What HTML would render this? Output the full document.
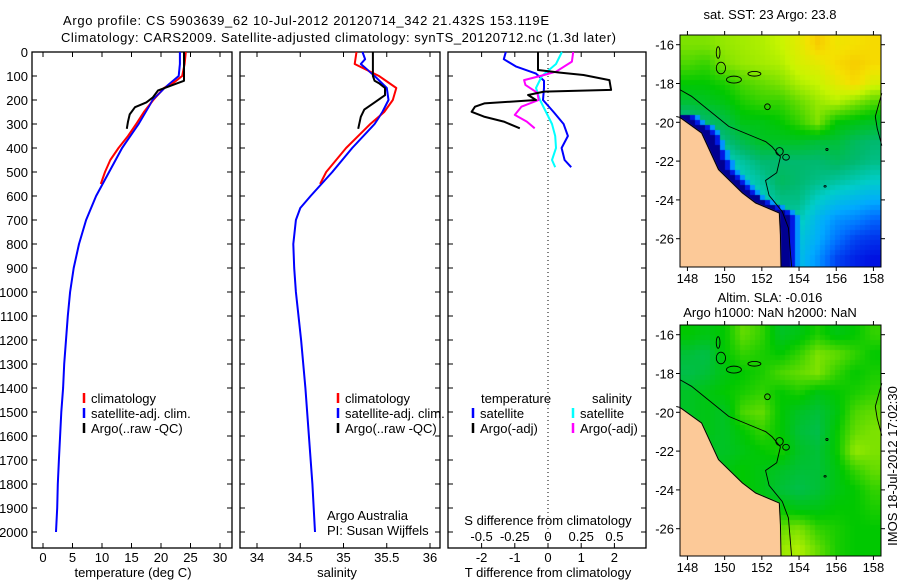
<!DOCTYPE html>
<html><head><meta charset="utf-8">
<style>
body{margin:0;background:#fff;width:900px;height:580px;overflow:hidden;position:relative;font-family:"Liberation Sans",sans-serif}
canvas{position:absolute}
svg{position:absolute;left:0;top:0}
text{font-family:"Liberation Sans",sans-serif;font-size:13px;fill:#000}
</style></head>
<body>
<canvas id="m1" width="201" height="232" style="left:680px;top:35px"></canvas>
<canvas id="m2" width="201" height="231" style="left:680px;top:325px"></canvas>
<svg id="s" width="900" height="580"></svg>
<script>
// ---------- data ----------
const tClimDepth=[0,50,100,125,150,200,250,300,350,400,450,500,550];
const tClimVal=[24.2,24.0,23.6,22.3,20.5,18.7,17.1,15.8,14.4,12.8,11.4,10.5,9.8];
const tSatDepth=[0,50,100,150,200,300,400,500,600,700,800,900,1000,1100,1200,1300,1400,1500,1600,1700,1800,1900,2000];
const tSatVal=[23.2,23.2,23.0,20.6,18.6,16.2,13.4,11.2,9.0,7.3,6.1,5.2,4.6,4.2,3.9,3.6,3.4,3.1,2.9,2.7,2.5,2.4,2.2];
const tArgoDepth=[0,120,130,160,190,210,230,260,290,320];
const tArgoVal=[23.9,23.9,22.8,19.5,18.6,17.5,15.6,14.7,14.4,14.2];
const sClimDepth=[0,50,100,150,200,250,300,400,500,550];
const sClimVal=[35.15,35.13,35.41,35.61,35.57,35.47,35.31,35.03,34.8,34.73];
const sSatDepth=[0,30,50,100,150,200,250,300,400,500,600,650,700,800,900,1000,1200,1400,1600,1800,2000];
const sSatVal=[35.22,35.25,35.2,35.36,35.5,35.52,35.45,35.36,35.1,34.87,34.62,34.5,34.45,34.42,34.43,34.45,34.51,34.56,34.6,34.64,34.67];
const sArgoDepth=[0,100,120,130,150,180,210,240,270,320];
const sArgoVal=[35.34,35.34,35.36,35.41,35.48,35.48,35.36,35.24,35.2,35.17];
const dTSatDepth=[0,30,60,90,120,150,200,250,300,350,400,450,480];
const dTSatVal=[-1.27,-1.33,-0.97,-0.36,-0.12,-0.12,-0.15,0.17,0.47,0.6,0.41,0.5,0.7];
const dTArgoDepth=[0,75,86,96,117,158,165,179,200,214,228,249,269,290,318];
const dTArgoVal=[-0.3,-0.3,0.36,1.07,1.85,1.9,-0.12,-0.6,-0.36,-1.92,-2.2,-2.3,-1.93,-1.33,-0.85];
const dSSatDepth=[0,50,100,150,200,250,300,350,400,450,480];
const dSSatVal=[0.105,0.06,-0.046,-0.09,-0.06,-0.015,0.03,0.054,0.06,0.03,0.054];
const dSArgoDepth=[0,40,82,96,117,137,170,200,228,262,290,318];
const dSArgoVal=[0.19,0.18,0.06,-0.03,-0.18,-0.17,-0.08,-0.07,-0.2,-0.25,-0.16,-0.1];
const depthTicks=[0,100,200,300,400,500,600,700,800,900,1000,1100,1200,1300,1400,1500,1600,1700,1800,1900,2000];
const tTicks=[0,5,10,15,20,25,30];
const sTicks=[34,34.5,35,35.5,36];
const dTTicks=[-2,-1,0,1,2];
const dSTicks=[-0.5,-0.25,0,0.25,0.5];
const lonTicks=[148,150,152,154,156,158];
const latTicks=[-16,-18,-20,-22,-24,-26];
// SST and SLA grids (colour index), rows lat -16..-27, cols lon 148..158
const sstGrid=[
[.72,.72,.74,.75,.76,.78,.82,.88,.84,.85,.86],
[.68,.66,.72,.74,.75,.76,.80,.82,.86,.88,.86],
[.62,.62,.64,.68,.70,.72,.76,.78,.82,.86,.80],
[.56,.58,.60,.64,.66,.66,.70,.74,.76,.72,.68],
[.45,.50,.54,.60,.60,.62,.66,.72,.62,.60,.58],
[.40,.42,.48,.54,.58,.58,.58,.56,.56,.52,.50],
[.40,.40,.42,.46,.50,.50,.50,.50,.52,.50,.48],
[.38,.38,.38,.42,.46,.52,.50,.48,.46,.44,.42],
[.35,.35,.35,.38,.42,.48,.48,.42,.38,.36,.34],
[.33,.33,.33,.33,.40,.46,.44,.36,.30,.28,.24],
[.30,.30,.30,.30,.36,.42,.40,.34,.26,.20,.18],
[.30,.30,.30,.30,.34,.40,.38,.30,.20,.16,.14]];
const slaGrid=[
[.62,.60,.62,.70,.66,.58,.60,.64,.60,.62,.66],
[.56,.54,.62,.66,.64,.62,.66,.72,.70,.66,.62],
[.54,.56,.60,.62,.64,.68,.70,.72,.66,.62,.64],
[.58,.60,.62,.64,.66,.62,.64,.60,.62,.64,.66],
[.58,.60,.58,.68,.70,.62,.58,.56,.60,.68,.70],
[.58,.60,.58,.62,.66,.62,.56,.54,.62,.70,.72],
[.60,.58,.58,.60,.62,.64,.58,.56,.62,.74,.72],
[.60,.58,.60,.62,.60,.58,.56,.56,.60,.66,.70],
[.60,.60,.60,.62,.60,.56,.54,.56,.60,.62,.66],
[.60,.60,.60,.60,.62,.62,.60,.60,.62,.62,.64],
[.60,.60,.60,.62,.66,.70,.72,.66,.64,.62,.62],
[.60,.60,.60,.62,.68,.74,.76,.70,.64,.62,.62]];
const coastLon=[147.4,147.6,148.76,149.67,150.95,151.67,152.94,153.0,153.03];
const coastLat=[-19.7,-19.75,-20.55,-22.44,-23.64,-24.16,-24.68,-25.8,-27.6];
const isoLon=[147.6,148.22,150.22,152.21,152.55,153.0,152.8,152.2,152.39,153.1,153.43,153.6];
const isoLat=[-18.32,-18.66,-20.21,-21.0,-21.26,-21.78,-22.6,-23.0,-23.77,-24.6,-25.45,-27.5];

// ---------- helpers ----------
const NS='http://www.w3.org/2000/svg';
const svg=document.getElementById('s');
function el(tag,attrs,parent){const e=document.createElementNS(NS,tag);for(const k in attrs)e.setAttribute(k,attrs[k]);(parent||svg).appendChild(e);return e;}
function txt(x,y,s,anchor,extra){const t=el('text',Object.assign({x:x,y:y,'text-anchor':anchor||'start'},extra||{}));t.textContent=s;return t;}
const yD=d=>52+d*0.24;
const xT=v=>43+v*5.9;
const xS=v=>257+(v-34)*86.5;
const xDT=v=>548+v*33.2;
const xDS=v=>548+v*132.8;

function panel(x0,x1,name){
  const g=el('g',{});
  
  
  el('rect',{x:x0,y:52,width:x1-x0,height:496,fill:'none',stroke:'#000','stroke-width':1.3},g);
  depthTicks.forEach(d=>{
    el('line',{x1:x0,x2:x0+5,y1:yD(d),y2:yD(d),stroke:'#000'},g);
    el('line',{x1:x1-5,x2:x1,y1:yD(d),y2:yD(d),stroke:'#000'},g);
  });
  return g;
}
function xticks(g,vals,fx,labels){
  vals.forEach((v,i)=>{
    const x=fx(v);
    el('line',{x1:x,x2:x,y1:548,y2:543,stroke:'#000'},g);
    el('line',{x1:x,x2:x,y1:52,y2:57,stroke:'#000'},g);
    if(labels){const t=txt(x,562,labels[i],'middle');}
  });
}
function line(depths,vals,fx,color,name,w){
  const pts=depths.map((d,i)=>fx(vals[i]).toFixed(1)+','+yD(d).toFixed(1)).join(' ');
  const p=el('polyline',{points:pts,fill:'none',stroke:color,'stroke-width':w||2,'stroke-linejoin':'round'});
  
  
}
function legend(x,y,color,label){
  el('line',{x1:x,x2:x,y1:y-10,y2:y,stroke:color,'stroke-width':2.5});
  const t=txt(x+7,y,label);
  
  
}

// titles
const t1=txt(63,25,'Argo profile: CS 5903639_62 10-Jul-2012 20120714_342 21.432S 153.119E','start',{textLength:486,'font-size':14});

const t2=txt(61,42,'Climatology: CARS2009. Satellite-adjusted climatology: synTS_20120712.nc (1.3d later)','start',{textLength:555,'font-size':14});


// panel 1
const p1=panel(32,232,'temperature-panel');
xticks(p1,tTicks,xT,tTicks.map(String));
depthTicks.forEach(d=>{const t=txt(28,yD(d)+5,String(d),'end');});
line(tSatDepth,tSatVal,xT,'#0000ff','temp-satellite-line');
line(tClimDepth,tClimVal,xT,'#ff0000','temp-climatology-line');
line(tSatDepth.slice(0,9),tSatVal.slice(0,9),xT,'#0000ff','temp-satellite-upper',1.4);
line(tArgoDepth,tArgoVal,xT,'#000000','temp-argo-line');
legend(84,403,'#ff0000','climatology');
legend(84,418,'#0000ff','satellite-adj. clim.');
legend(84,433,'#000000','Argo(..raw -QC)');
const xa1=txt(133,577,'temperature (deg C)','middle');

// panel 2
const p2=panel(240,440,'salinity-panel');
xticks(p2,sTicks,xS,['34','34.5','35','35.5','36']);
line(sSatDepth,sSatVal,xS,'#0000ff','salinity-satellite-line');
line(sClimDepth,sClimVal,xS,'#ff0000','salinity-climatology-line');
line(sSatDepth.slice(0,11),sSatVal.slice(0,11),xS,'#0000ff','salinity-satellite-upper',1.4);
line(sArgoDepth,sArgoVal,xS,'#000000','salinity-argo-line');
legend(338,403,'#ff0000','climatology');
legend(338,418,'#0000ff','satellite-adj. clim.');
legend(338,433,'#000000','Argo(..raw -QC)');
const ca=txt(327,520,'Argo Australia');
const cb=txt(327,535,'PI: Susan Wijffels');
const xa2=txt(337,577,'salinity','middle');

// panel 3
const p3=panel(448,646,'difference-panel');
xticks(p3,dTTicks,xDT,['-2','-1','0','1','2']);
el('line',{x1:548,x2:548,y1:52,y2:548,stroke:'#000','stroke-dasharray':'1,3'});
dSTicks.forEach((v,i)=>{const t=txt(xDS(v),541,['-0.5','-0.25','0','0.25','0.5'][i],'middle');});
line(dTSatDepth,dTSatVal,xDT,'#0000ff','t-diff-satellite-line');
line(dSSatDepth,dSSatVal,xDS,'#00ffff','s-diff-satellite-line');
line(dSArgoDepth,dSArgoVal,xDS,'#ff00ff','s-diff-argo-line');
line(dTArgoDepth,dTArgoVal,xDT,'#000000','t-diff-argo-line');
txt(481,403,'temperature');
txt(592,403,'salinity');
legend(473,418,'#0000ff','satellite');
legend(473,433,'#000000','Argo(-adj)');
legend(573,418,'#00ffff','satellite');
legend(573,433,'#ff00ff','Argo(-adj)');
const sd=txt(548,525,'S difference from climatology','middle');
const td=txt(548,577,'T difference from climatology','middle');

// ---------- maps ----------
const LON0=147.6,LAT0=-15.5,PXLON=18.6,PXLAT=19.4;
const stops=[[0,[0,0,120]],[0.12,[0,0,220]],[0.25,[0,110,255]],[0.33,[0,170,255]],[0.42,[0,205,200]],[0.5,[0,185,110]],[0.62,[0,200,0]],[0.7,[100,220,0]],[0.78,[200,245,0]],[0.85,[245,225,0]],[0.92,[250,175,0]],[1,[240,120,0]]];
function cmap(t){t=Math.max(0,Math.min(1,t));for(let i=1;i<stops.length;i++){if(t<=stops[i][0]){const a=stops[i-1],b=stops[i],f=(t-a[0])/(b[0]-a[0]);return a[1].map((c,k)=>Math.round(c+(b[1][k]-c)*f));}}return stops[stops.length-1][1];}
function interp(xs,ys,y){for(let i=1;i<ys.length;i++){if(y>=ys[i]&&y<=ys[i-1]){const f=(y-ys[i-1])/(ys[i]-ys[i-1]);return xs[i-1]+(xs[i]-xs[i-1])*f;}}return null;}
function grid(g,lon,lat){const c=Math.max(0,Math.min(10,lon-148)),r=Math.max(0,Math.min(11,-16-lat));const c0=Math.min(9,Math.floor(c)),r0=Math.min(10,Math.floor(r));const fc=c-c0,fr=r-r0;
  return g[r0][c0]*(1-fc)*(1-fr)+g[r0][c0+1]*fc*(1-fr)+g[r0+1][c0]*(1-fc)*fr+g[r0+1][c0+1]*fc*fr;}
function drawMap(id,g,sst){
  const cv=document.getElementById(id),ctx=cv.getContext('2d');const B=5;
  for(let py=0;py<cv.height;py+=B)for(let px=0;px<cv.width;px+=B){
    const lon=LON0+(px+B/2)/PXLON,lat=LAT0-(py+B/2)/PXLAT;
    let v=grid(g,lon,lat);
    const cl=lat<=-19.7?interp(coastLon,coastLat,lat):null;
    if(sst&&cl!==null){const d=lon-cl;if(d<0.5)v=0.03;else if(d<0.75)v=0.15;else if(d<1.0)v=Math.min(v,0.3);}
    const c=cmap(v);ctx.fillStyle='rgb('+c+')';ctx.fillRect(px,py,B,B);
  }
  ctx.fillStyle='#fcc998';ctx.beginPath();
  ctx.moveTo(0,(LAT0-coastLat[1])*PXLAT);
  coastLon.forEach((lo,i)=>ctx.lineTo((lo-LON0)*PXLON,(LAT0-coastLat[i])*PXLAT));
  ctx.lineTo(0,cv.height+5);ctx.closePath();ctx.fill();
}
drawMap('m1',sstGrid,true);
drawMap('m2',slaGrid,false);

function mapAxes(top,name){
  const h=(top===35)?232:231;
  const g=el('g',{});
  
  
  const X=lo=>680+(lo-LON0)*PXLON, Y=la=>top+(LAT0-la)*PXLAT;
  el('polyline',{points:coastLon.map((lo,i)=>X(lo)+','+Math.min(top+h,Y(coastLat[i]))).join(' '),fill:'none',stroke:'#000','stroke-width':1},g);
  el('polyline',{points:isoLon.map((lo,i)=>X(lo)+','+Math.min(top+h,Y(isoLat[i]))).join(' '),fill:'none',stroke:'#000','stroke-width':0.9},g);
  el('polyline',{points:[[158.45,-18.5],[158.1,-19.7],[158.2,-20.3],[158.45,-21.2]].map(p=>X(p[0])+','+Y(p[1])).join(' '),fill:'none',stroke:'#000','stroke-width':0.9},g);
  [[149.65,-16.4,0.1,0.3],[149.8,-17.2,0.25,0.3],[150.5,-17.8,0.4,0.18],[151.6,-17.5,0.35,0.12],[152.3,-19.2,0.15,0.15],[152.95,-21.5,0.2,0.2],[153.3,-21.8,0.18,0.15],[155.5,-21.4,0.06,0.05],[155.4,-23.3,0.06,0.04]].forEach(e=>{
    el('ellipse',{cx:X(e[0]),cy:Y(e[1]),rx:e[2]*PXLON,ry:e[3]*PXLAT,fill:'none',stroke:'#000','stroke-width':0.9},g);});
  el('rect',{x:680,y:top,width:201,height:h,fill:'none',stroke:'#000','stroke-width':1},g);
  lonTicks.forEach(lo=>{el('line',{x1:X(lo),x2:X(lo),y1:top,y2:top-4,stroke:'#000'},g);el('line',{x1:X(lo),x2:X(lo),y1:top+h,y2:top+h+4,stroke:'#000'},g);
    const t=txt(X(lo),top+h+16,String(lo),'middle',{'font-size':14});});
  latTicks.forEach(la=>{el('line',{x1:676,x2:680,y1:Y(la),y2:Y(la),stroke:'#000'},g);el('line',{x1:881,x2:885,y1:Y(la),y2:Y(la),stroke:'#000'},g);
    const t=txt(674,Y(la)+5,String(la),'end',{'font-size':14});});
}
mapAxes(35,'sst-map-axes');
mapAxes(325,'sla-map-axes');
const mt=txt(770,19,'sat. SST: 23 Argo: 23.8','middle');
const m2a=txt(770,302,'Altim. SLA: -0.016','middle');
const m2b=txt(770,317,'Argo h1000: NaN h2000: NaN','middle');
const im=txt(0,0,'IMOS 18-Jul-2012 17:02:30','middle',{transform:'translate(897,466) rotate(-90)'});
</script>
</body></html>
